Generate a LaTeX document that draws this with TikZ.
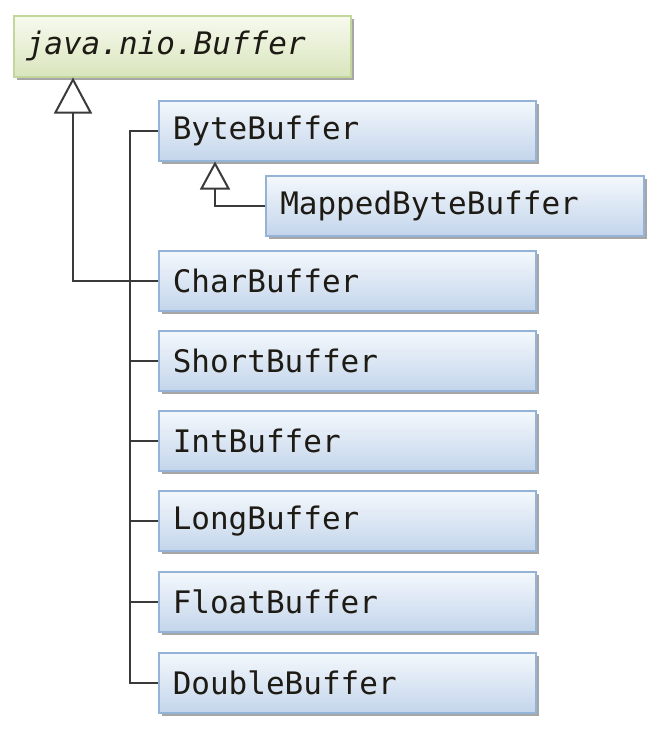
\documentclass[tikz,border=0pt]{standalone}
\usepackage{fontspec}
\setmonofont{DejaVu Sans Mono}
\usetikzlibrary{arrows.meta,shadows}
\definecolor{bborder}{HTML}{95B3D7}
\definecolor{btop}{HTML}{F4F8FC}
\definecolor{bbot}{HTML}{C3D5EB}
\definecolor{gborder}{HTML}{C3D69B}
\definecolor{gtop}{HTML}{F7FAEE}
\definecolor{gbot}{HTML}{D9E5BD}
\definecolor{conn}{HTML}{3A3A3A}
\definecolor{txt}{HTML}{1E1A14}
\tikzset{
  cls/.style={draw=bborder, line width=1.5pt, top color=btop, bottom color=bbot,
    minimum width=377pt, minimum height=60pt, anchor=north west, inner sep=0pt,
    text width=349pt, align=left, inner xsep=14pt,
    font=\ttfamily\fontsize{31}{31}\selectfont, text=txt,
    drop shadow={shadow xshift=3pt, shadow yshift=-3pt, fill=black!35, opacity=1}},
  root/.style={cls, draw=gborder, top color=gtop, bottom color=gbot,
    minimum width=337pt, text width=313pt, inner xsep=12pt, minimum height=61pt,
    font=\ttfamily\itshape\fontsize{31}{31}\selectfont},
  link/.style={draw=conn, line width=2pt},
  inh/.style={link, -{Triangle[open, length=36pt, width=38pt, line width=2pt]}},
  inhs/.style={link, -{Triangle[open, length=28pt, width=30pt, line width=2pt]}},
}
\begin{document}
\begin{tikzpicture}[x=1pt,y=-1pt]
\useasboundingbox (0,0) rectangle (666,732);
\node[root] (buf) at (13,15) {java.nio.Buffer};
\node[cls] (byte) at (158,100) {ByteBuffer};
\node[cls, minimum width=378pt] (mapped) at (265,175) {MappedByteBuffer};
\node[cls] (char) at (158,250) {CharBuffer};
\node[cls] (short) at (158,330) {ShortBuffer};
\node[cls] (int) at (158,410) {IntBuffer};
\node[cls] (long) at (158,490) {LongBuffer};
\node[cls] (float) at (158,571) {FloatBuffer};
\node[cls] (double) at (158,652) {DoubleBuffer};
\draw[link] (byte.west) -- ++(-28,0) |- (double.west);
\draw[link] (short.west) -- ++(-28,0);
\draw[link] (int.west) -- ++(-28,0);
\draw[link] (long.west) -- ++(-28,0);
\draw[link] (float.west) -- ++(-28,0);
\draw[inh] (char.west) -| ([xshift=60pt]buf.south west);
\draw[inhs] (mapped.west) -| ([xshift=57pt]byte.south west);
\end{tikzpicture}
\end{document}
